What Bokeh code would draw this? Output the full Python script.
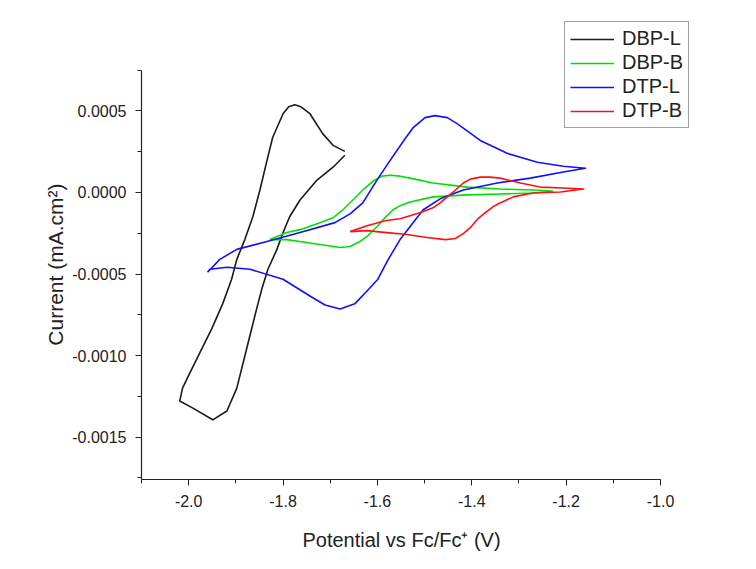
from bokeh.plotting import figure
from bokeh.models import FixedTicker, PrintfTickFormatter, Range1d, Legend, LegendItem
from bokeh.embed import file_html
from bokeh.resources import INLINE

# ---- data (potential in V vs Fc/Fc+, current in mA.cm^2) ----
dbp_l_x = [-1.669, -1.694, -1.716, -1.743, -1.762, -1.775, -1.788, -1.800, -1.822, -1.834,
           -1.849, -1.864, -1.881, -1.898, -1.909, -1.928, -1.951, -1.977, -1.998, -2.013,
           -2.019, -1.992, -1.949, -1.919, -1.898, -1.877, -1.856, -1.845, -1.832, -1.813,
           -1.800, -1.786, -1.764, -1.728, -1.694, -1.669]
dbp_l_y = [2.52e-4, 2.89e-4, 3.61e-4, 4.83e-4, 5.25e-4, 5.38e-4, 5.25e-4, 4.83e-4, 3.37e-4, 1.97e-4,
           0.15e-4, -1.49e-4, -2.89e-4, -4.10e-4, -5.32e-4, -6.83e-4, -8.35e-4, -9.87e-4, -11.09e-4, -12.00e-4,
           -12.79e-4, -13.21e-4, -13.94e-4, -13.40e-4, -12.00e-4, -9.57e-4, -7.14e-4, -5.92e-4, -4.71e-4, -3.49e-4,
           -2.46e-4, -1.49e-4, -0.46e-4, 0.76e-4, 1.55e-4, 2.28e-4]

dbp_b_x = [-1.828, -1.792, -1.764, -1.732, -1.694, -1.673, -1.652, -1.631, -1.609, -1.590,
           -1.573, -1.552, -1.531, -1.482, -1.410, -1.340, -1.270, -1.229, -1.270, -1.340,
           -1.410, -1.482, -1.531, -1.552, -1.567, -1.584, -1.601, -1.620, -1.637, -1.658,
           -1.679, -1.722, -1.764, -1.792, -1.828]
dbp_b_y = [-2.89e-4, -2.46e-4, -2.28e-4, -1.97e-4, -1.55e-4, -1.06e-4, -0.46e-4, 0.15e-4, 0.70e-4, 1.00e-4,
           1.06e-4, 1.00e-4, 0.88e-4, 0.58e-4, 0.33e-4, 0.21e-4, 0.15e-4, 0.09e-4, -0.03e-4, -0.09e-4,
           -0.15e-4, -0.27e-4, -0.58e-4, -0.82e-4, -1.06e-4, -1.55e-4, -2.10e-4, -2.64e-4, -3.01e-4, -3.31e-4,
           -3.37e-4, -3.19e-4, -3.01e-4, -2.89e-4, -2.89e-4]

dtp_l_x = [-1.960, -1.934, -1.898, -1.834, -1.764, -1.690, -1.658, -1.631, -1.601, -1.573,
           -1.541, -1.524, -1.499, -1.478, -1.452, -1.431, -1.382, -1.325, -1.261, -1.206,
           -1.159, -1.206, -1.276, -1.346, -1.418, -1.467, -1.503, -1.531, -1.552, -1.577,
           -1.599, -1.622, -1.648, -1.679, -1.711, -1.743, -1.800, -1.870, -1.919, -1.955,
           -1.960]
dtp_l_y = [-4.89e-4, -4.10e-4, -3.49e-4, -3.01e-4, -2.46e-4, -1.85e-4, -1.31e-4, -0.64e-4, 0.76e-4, 1.97e-4,
           3.31e-4, 3.98e-4, 4.59e-4, 4.71e-4, 4.59e-4, 4.22e-4, 3.19e-4, 2.40e-4, 1.85e-4, 1.61e-4,
           1.49e-4, 1.25e-4, 0.88e-4, 0.58e-4, 0.15e-4, -0.39e-4, -1.06e-4, -2.10e-4, -2.89e-4, -4.10e-4,
           -5.32e-4, -6.04e-4, -6.83e-4, -7.14e-4, -6.90e-4, -6.35e-4, -5.32e-4, -4.71e-4, -4.59e-4, -4.71e-4,
           -4.89e-4]

dtp_b_x = [-1.658, -1.622, -1.584, -1.552, -1.510, -1.482, -1.467, -1.452, -1.439, -1.418,
           -1.403, -1.382, -1.361, -1.340, -1.297, -1.255, -1.206, -1.163, -1.212, -1.270,
           -1.312, -1.340, -1.355, -1.372, -1.389, -1.403, -1.418, -1.435, -1.456, -1.495,
           -1.537, -1.580, -1.622, -1.658]
dtp_b_y = [-2.40e-4, -2.04e-4, -1.73e-4, -1.61e-4, -1.25e-4, -0.94e-4, -0.64e-4, -0.27e-4, 0.03e-4, 0.58e-4,
           0.82e-4, 0.94e-4, 0.94e-4, 0.88e-4, 0.58e-4, 0.33e-4, 0.27e-4, 0.21e-4, 0.03e-4, -0.03e-4,
           -0.27e-4, -0.64e-4, -0.88e-4, -1.25e-4, -1.67e-4, -2.16e-4, -2.52e-4, -2.82e-4, -2.89e-4, -2.76e-4,
           -2.58e-4, -2.46e-4, -2.34e-4, -2.40e-4]

series_names = ["DBP-L", "DBP-B", "DTP-L", "DTP-B"]
series_colors = ["#1a1a1a", "#00e000", "#1010ff", "#ff1010"]

x_axis_min, x_axis_max = -2.1, -1.0
y_axis_min, y_axis_max = -0.00176, 0.00075
x_major = [-2.0, -1.8, -1.6, -1.4, -1.2, -1.0]
x_minor = [-2.1, -1.9, -1.7, -1.5, -1.3, -1.1]
y_major = [-0.0015, -0.0010, -0.0005, 0.0, 0.0005]
y_minor = [-0.00175, -0.00125, -0.00075, -0.00025, 0.00025, 0.00075]

FONT = "Liberation Sans"
NBSP = "\u00a0"

# The frame reaches a little beyond the axes (room for the legend, which sits
# partly outside the axes box in the original); the axes are bounded.
p = figure(width=740, height=553, output_backend="svg", toolbar_location=None,
           x_range=Range1d(x_axis_min, -0.9152), y_range=Range1d(y_axis_min, 0.0010545),
           min_border_left=141, min_border_right=40, min_border_top=20, min_border_bottom=71,
           background_fill_color="white", border_fill_color="white")
p.outline_line_color = None
p.xgrid.visible = False
p.ygrid.visible = False

renderers = []
for xs, ys, c in [(dbp_l_x, dbp_l_y, series_colors[0]), (dbp_b_x, dbp_b_y, series_colors[1]),
                  (dtp_l_x, dtp_l_y, series_colors[2]), (dtp_b_x, dtp_b_y, series_colors[3])]:
    r = p.line(xs, ys, line_color=c, line_width=1.6, line_join="round")
    renderers.append(r)

for ax in (p.xaxis[0], p.yaxis[0]):
    ax.axis_line_color = "#222222"
    ax.axis_line_width = 1.2
    ax.major_tick_line_color = "#222222"
    ax.minor_tick_line_color = "#222222"
    ax.major_tick_in = 0
    ax.major_tick_out = 6
    ax.minor_tick_in = 0
    ax.minor_tick_out = 4
    ax.major_label_text_font = FONT
    ax.major_label_text_font_size = "16px"
    ax.major_label_text_color = "#222222"
    ax.axis_label_text_font = FONT
    ax.axis_label_text_font_size = "20px"
    ax.axis_label_text_font_style = "normal"
    ax.axis_label_text_color = "#222222"

p.yaxis.axis_label_text_font_size = "21px"
p.xaxis.bounds = (x_axis_min, x_axis_max)
p.yaxis.bounds = (y_axis_min, y_axis_max)
p.xaxis.ticker = FixedTicker(ticks=x_major, minor_ticks=x_minor)
p.yaxis.ticker = FixedTicker(ticks=y_major, minor_ticks=y_minor)
p.xaxis.formatter = PrintfTickFormatter(format="%.1f")
p.yaxis.formatter = PrintfTickFormatter(format="%.4f")
# trailing no-break spaces centre the visible label on the bounded axis
p.xaxis.axis_label = "Potential vs Fc/Fc\u207a (V)" + NBSP * 7
p.yaxis.axis_label = "Current (mA.cm\u00b2)" + NBSP * 5
p.xaxis.major_label_standoff = 9
p.yaxis.major_label_standoff = 9
p.xaxis.axis_label_standoff = 19
p.yaxis.axis_label_standoff = 2

legend = Legend(items=[LegendItem(label=n, renderers=[r]) for n, r in zip(series_names, renderers)],
                location=(423, 351), orientation="vertical")
legend.label_text_font = FONT
legend.label_text_font_size = "20px"
legend.label_text_color = "#222222"
legend.glyph_width = 44
legend.glyph_height = 20
legend.label_height = 20
legend.label_standoff = 8
legend.spacing = 1
legend.padding = 5
legend.margin = 0
legend.border_line_color = "#444444"
legend.border_line_width = 1
legend.background_fill_color = "white"
legend.background_fill_alpha = 1.0
p.add_layout(legend)

open("out.html", "w").write(file_html(p, INLINE))
